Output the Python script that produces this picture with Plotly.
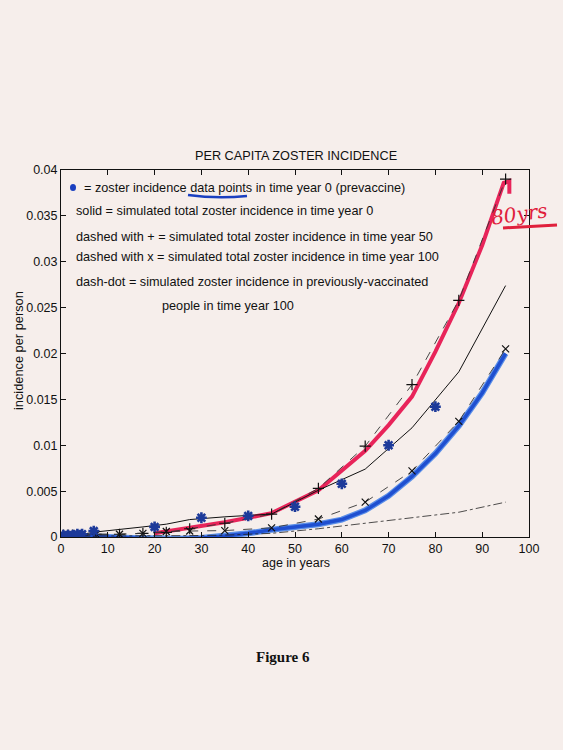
import plotly.graph_objects as go

# ---------------- data ----------------
ages = [0.5, 1.5, 2.5, 3.5, 4.5, 7.5, 12.5, 17.5, 22.5, 27.5, 35, 45, 55, 65, 75, 85, 95]
year0_total = [0.0003, 0.0003, 0.0003, 0.0003, 0.0003, 0.00055, 0.0008, 0.0011, 0.0014, 0.0019,
               0.0022, 0.0025, 0.0051, 0.0074, 0.0119, 0.0180, 0.0274]
year50_total = [0.0002, 0.0002, 0.0002, 0.0002, 0.0002, 0.0003, 0.0003, 0.0004, 0.0005, 0.0009,
                0.0015, 0.0025, 0.0053, 0.0099, 0.0166, 0.0258, 0.0390]
year100_total = [0.0002, 0.0002, 0.0002, 0.0002, 0.0002, 0.0003, 0.0003, 0.0004, 0.0006, 0.00065,
                 0.0007, 0.0010, 0.00196, 0.0038, 0.0072, 0.0126, 0.0205]
year100_vacc = [0.0001, 0.0001, 0.0001, 0.0001, 0.0001, 0.0001, 0.0001, 0.0001, 0.0001, 0.00015,
                0.0002, 0.0004, 0.0009, 0.0015, 0.0021, 0.0027, 0.0038]

data_ages = [0.5, 1.5, 2.5, 3.5, 4.5, 7, 20, 30, 40, 50, 60, 70, 80]
data_vals = [0.0002, 0.0002, 0.0002, 0.0003, 0.0003, 0.00065, 0.0011, 0.0021, 0.0023, 0.0033,
             0.0058, 0.0100, 0.0142]

# hand-drawn marker pen traces on the scan
red_ages = [20, 22.5, 27.5, 35, 45, 55, 65, 70, 75, 80, 85, 90, 94.6, 95.8, 95.8]
red_vals = [0.0004, 0.0006, 0.0010, 0.0016, 0.0026, 0.0051, 0.0094, 0.0122, 0.0153, 0.0202,
            0.0255, 0.0318, 0.0386, 0.0388, 0.0374]
blue_ages = [0, 5, 10, 15, 20, 25, 30, 35, 40, 45, 50, 55, 60, 65, 70, 75, 80, 85, 90, 95]
blue_vals = [0.0001, 0.0001, 0.0, -0.0001, -0.0002, -0.0002, -0.0001, 0.0001, 0.0004, 0.0008,
             0.0011, 0.0014, 0.0019, 0.0029, 0.0045, 0.0066, 0.0091, 0.0121, 0.0157, 0.0200]

x_ticks = [0, 10, 20, 30, 40, 50, 60, 70, 80, 90, 100]
y_ticks = [0, 0.005, 0.01, 0.015, 0.02, 0.025, 0.03, 0.035, 0.04]
y_ticklabels = ["0", "0.005", "0.01", "0.015", "0.02", "0.025", "0.03", "0.035", "0.04"]

legend_lines = [
    "= zoster incidence data points in time year 0 (prevaccine)",
    "solid = simulated total zoster incidence in time year 0",
    "dashed with + = simulated total zoster incidence in time year 50",
    "dashed with x = simulated total zoster incidence in time year 100",
    "dash-dot = simulated zoster incidence in previously-vaccinated",
    "people in time year 100",
]

# ---------------- figure ----------------
W, H = 563, 750
L, R, T, B = 61, 34, 170, 213
pw, ph = W - L - R, H - T - B


def px(xpix):
    return (xpix - L) / pw


def py(ypix):
    return (H - B - ypix) / ph


BG = "#f6eeeb"
FONT = "Liberation Sans, Arial, sans-serif"
FS = 12.7

fig = go.Figure()

# hand drawn pen lines (under the print)
fig.add_trace(go.Scatter(x=red_ages, y=red_vals, mode="lines",
                         line=dict(color="#e8245a", width=4), hoverinfo="skip"))
fig.add_trace(go.Scatter(x=blue_ages, y=blue_vals, mode="lines",
                         line=dict(color="#5a8ee8", width=6), hoverinfo="skip"))
fig.add_trace(go.Scatter(x=blue_ages, y=blue_vals, mode="lines",
                         line=dict(color="#1f4fd0", width=3.5), hoverinfo="skip"))

# printed curves
fig.add_trace(go.Scatter(x=ages, y=year100_vacc, mode="lines",
                         line=dict(color="#222222", width=0.8, dash="dashdot")))
fig.add_trace(go.Scatter(x=ages, y=year0_total, mode="lines",
                         line=dict(color="#111111", width=1)))
fig.add_trace(go.Scatter(x=ages, y=year50_total, mode="lines+markers",
                         line=dict(color="#333333", width=0.9, dash="dash"),
                         marker=dict(symbol="cross-thin", size=8, color="#111111",
                                     line=dict(color="#111111", width=1.2))))
fig.add_trace(go.Scatter(x=ages, y=year100_total, mode="lines+markers",
                         line=dict(color="#333333", width=0.9, dash="dash"),
                         marker=dict(symbol="x-thin", size=7, color="#111111",
                                     line=dict(color="#111111", width=1.2))))
fig.add_trace(go.Scatter(x=data_ages, y=data_vals, mode="markers",
                         marker=dict(symbol="asterisk-open", size=9, color="#1d3a9a",
                                     line=dict(color="#1d3a9a", width=2.6))))

annotations = []
# legend text inside the axes
leg_pos = [(82, 188), (74, 211), (74, 237), (74, 257), (74, 282), (160, 306)]
for txt, (xx, yy) in zip(legend_lines, leg_pos):
    annotations.append(dict(text=txt, x=px(xx), y=py(yy), xref="paper", yref="paper",
                            xanchor="left", yanchor="middle", showarrow=False,
                            font=dict(family=FONT, size=FS, color="#111111")))
# title
annotations.append(dict(text="PER CAPITA ZOSTER INCIDENCE", x=px(296), y=py(156),
                        xref="paper", yref="paper", xanchor="center", yanchor="middle",
                        showarrow=False, font=dict(family=FONT, size=FS, color="#111111")))
# axis titles
annotations.append(dict(text="age in years", x=px(295.5), y=py(563), xref="paper", yref="paper",
                        xanchor="center", yanchor="middle", showarrow=False,
                        font=dict(family=FONT, size=12.5, color="#111111")))
annotations.append(dict(text="incidence per person", x=px(18), y=py(351), xref="paper", yref="paper",
                        xanchor="center", yanchor="middle", showarrow=False, textangle=-90,
                        font=dict(family=FONT, size=12.8, color="#111111")))
# figure caption
annotations.append(dict(text="<b>Figure 6</b>", x=px(283), y=py(657), xref="paper", yref="paper",
                        xanchor="center", yanchor="middle", showarrow=False,
                        font=dict(family="Liberation Serif, Times New Roman, serif", size=15,
                                  color="#111111")))
# handwritten note
annotations.append(dict(text="<i>80yrs</i>", x=px(519), y=py(214), xref="paper", yref="paper",
                        xanchor="center", yanchor="middle", showarrow=False, textangle=-8,
                        font=dict(family="DejaVu Serif, serif", size=20, color="#e0203c")))

shapes = [
    # blue pen dot at legend start
    dict(type="circle", xref="paper", yref="paper", x0=px(70), x1=px(76), y0=py(191), y1=py(184),
         fillcolor="#1a3fc0", line=dict(width=0)),
    # blue underline of "data points"
    dict(type="path", xref="paper", yref="paper",
         path=f"M {px(188)},{py(195)} Q {px(217)},{py(199)} {px(247)},{py(196)}",
         line=dict(color="#1a3fc0", width=2.5)),
    # red underline of "80yrs"
    dict(type="line", xref="paper", yref="paper", x0=px(503), x1=px(557), y0=py(228), y1=py(225),
         line=dict(color="#e0203c", width=3)),
]

fig.update_layout(
    width=W, height=H,
    margin=dict(l=L, r=R, t=T, b=B, pad=0),
    paper_bgcolor=BG, plot_bgcolor=BG,
    showlegend=False,
    annotations=annotations,
    shapes=shapes,
    font=dict(family=FONT, size=12.5, color="#111111"),
)
fig.update_xaxes(range=[0, 100], tickvals=x_ticks, ticks="inside", ticklen=5, tickwidth=1,
                 tickcolor="#111111", showline=True, linecolor="#111111", linewidth=1,
                 mirror="ticks", showgrid=False, zeroline=False,
                 tickfont=dict(family=FONT, size=12.5, color="#111111"))
fig.update_yaxes(range=[0, 0.04], tickvals=y_ticks, ticktext=y_ticklabels, ticks="inside",
                 ticklen=5, tickwidth=1, tickcolor="#111111", showline=True, linecolor="#111111",
                 linewidth=1, mirror="ticks", showgrid=False, zeroline=False,
                 tickfont=dict(family=FONT, size=12.5, color="#111111"))

fig.write_html("out.html", config={"displayModeBar": False})

# remove the browser's default page margin so the figure fills the window
with open("out.html", "r", encoding="utf-8") as f:
    html = f.read()
html = html.replace("<head>", "<head><style>html,body{margin:0;padding:0;background:%s;}</style>" % BG, 1)
with open("out.html", "w", encoding="utf-8") as f:
    f.write(html)
